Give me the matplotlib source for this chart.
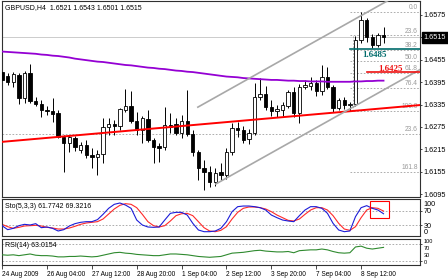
import numpy as np
import matplotlib.pyplot as plt
from matplotlib.patches import Rectangle

plt.rcParams['font.family'] = ['Liberation Sans', 'DejaVu Sans']

# GBPUSD H4, 69 bars (24 Aug 20:00 .. 9 Sep 04:00)
opens = [1.6422, 1.6412, 1.6395, 1.6414, 1.6353, 1.6420, 1.6345, 1.6336, 1.6320, 1.6318,
         1.6312, 1.6248, 1.6232, 1.6245, 1.6213, 1.6227, 1.6200, 1.6194, 1.6202, 1.6275,
         1.6283, 1.6278, 1.6320, 1.6331, 1.6291, 1.6267, 1.6296, 1.6240, 1.6224, 1.6221,
         1.6280, 1.6283, 1.6259, 1.6291, 1.6256, 1.6208, 1.6165, 1.6154, 1.6127, 1.6154,
         1.6146, 1.6208, 1.6272, 1.6267, 1.6243, 1.6259, 1.6355, 1.6363, 1.6328, 1.6318,
         1.6320, 1.6331, 1.6368, 1.6312, 1.6382, 1.6385, 1.6393, 1.6371, 1.6409, 1.6382,
         1.6326, 1.6347, 1.6334, 1.6336, 1.6508, 1.6562, 1.6516, 1.6495, 1.6521]
highs = [1.6428, 1.6420, 1.6422, 1.6420, 1.6425, 1.6444, 1.6355, 1.6347, 1.6331, 1.6353,
         1.6320, 1.6253, 1.6253, 1.6251, 1.6235, 1.6240, 1.6219, 1.6213, 1.6299, 1.6299,
         1.6294, 1.6326, 1.6377, 1.6371, 1.6315, 1.6304, 1.6320, 1.6245, 1.6232, 1.6328,
         1.6312, 1.6299, 1.6307, 1.6374, 1.6267, 1.6213, 1.6186, 1.6170, 1.6165, 1.6178,
         1.6219, 1.6286, 1.6288, 1.6278, 1.6270, 1.6393, 1.6406, 1.6385, 1.6347, 1.6334,
         1.6342, 1.6374, 1.6382, 1.6390, 1.6401, 1.6409, 1.6401, 1.6441, 1.6436, 1.6387,
         1.6353, 1.6355, 1.6342, 1.6519, 1.6583, 1.6567, 1.6524, 1.6527, 1.6543]
lows = [1.6393, 1.6387, 1.6382, 1.6336, 1.6339, 1.6339, 1.6331, 1.6302, 1.6307, 1.6288,
        1.6245, 1.6154, 1.6208, 1.6211, 1.6205, 1.6192, 1.6165, 1.6146, 1.6178, 1.6253,
        1.6253, 1.6267, 1.6315, 1.6286, 1.6253, 1.6232, 1.6235, 1.6178, 1.6181, 1.6213,
        1.6259, 1.6253, 1.6245, 1.6251, 1.6197, 1.6133, 1.6106, 1.6114, 1.6117, 1.6133,
        1.6135, 1.6200, 1.6248, 1.6232, 1.6229, 1.6253, 1.6347, 1.6320, 1.6304, 1.6302,
        1.6304, 1.6326, 1.6302, 1.6286, 1.6377, 1.6374, 1.6358, 1.6361, 1.6377, 1.6315,
        1.6320, 1.6323, 1.6318, 1.6331, 1.6500, 1.6503, 1.6487, 1.6489, 1.6501]
closes = [1.6401, 1.6395, 1.6417, 1.6353, 1.6420, 1.6345, 1.6336, 1.6320, 1.6318, 1.6310,
          1.6248, 1.6232, 1.6248, 1.6221, 1.6227, 1.6200, 1.6194, 1.6202, 1.6275, 1.6283,
          1.6278, 1.6323, 1.6331, 1.6291, 1.6267, 1.6299, 1.6240, 1.6221, 1.6219, 1.6280,
          1.6275, 1.6259, 1.6291, 1.6256, 1.6208, 1.6165, 1.6154, 1.6127, 1.6152, 1.6146,
          1.6208, 1.6272, 1.6267, 1.6240, 1.6259, 1.6355, 1.6363, 1.6328, 1.6318, 1.6323,
          1.6334, 1.6368, 1.6312, 1.6382, 1.6387, 1.6393, 1.6371, 1.6409, 1.6382, 1.6326,
          1.6347, 1.6334, 1.6336, 1.6508, 1.6562, 1.6516, 1.6495, 1.6521, 1.6515]

ma_purple = [1.6477, 1.6476, 1.6475, 1.6474, 1.6473, 1.6472, 1.6471, 1.6469, 1.6468, 1.6466,
             1.6465, 1.6463, 1.6461, 1.6458, 1.6456, 1.6454, 1.6452, 1.6450, 1.6449, 1.6447,
             1.6445, 1.6443, 1.6441, 1.6440, 1.6438, 1.6436, 1.6434, 1.6433, 1.6431, 1.6430,
             1.6428, 1.6426, 1.6425, 1.6423, 1.6422, 1.6420, 1.6418, 1.6416, 1.6414, 1.6412,
             1.6410, 1.6409, 1.6408, 1.6406, 1.6405, 1.6404, 1.6403, 1.6402, 1.6401, 1.6401,
             1.6400, 1.6399, 1.6399, 1.6398, 1.6398, 1.6397, 1.6397, 1.6397, 1.6396, 1.6396,
             1.6396, 1.6396, 1.6396, 1.6397, 1.6397, 1.6398, 1.6398, 1.6399, 1.6399]

sto_main = [28.7, 17.6, 21.3, 28.7, 32.4, 30.6, 34.3, 23.1, 25.0, 21.3,
            13.9, 17.6, 27.8, 34.3, 38.0, 39.8, 39.8, 45.4, 60.2, 76.9,
            88.0, 91.7, 86.0, 76.9, 44.4, 30.6, 25.0, 24.1, 25.0, 44.4,
            63.0, 65.7, 65.7, 58.3, 35.2, 16.7, 12.0, 12.0, 13.9, 21.3,
            39.8, 67.6, 81.5, 83.3, 83.3, 81.5, 78.7, 72.2, 58.3, 50.9,
            44.4, 41.7, 39.8, 56.5, 72.2, 81.5, 81.5, 76.9, 63.0, 35.2,
            16.7, 12.0, 13.9, 53.7, 78.7, 84.3, 76.9, 72.2, 61.8]
sto_signal = [32.4, 25.9, 21.3, 24.1, 27.8, 28.7, 29.6, 27.8, 24.1, 22.2,
              19.4, 19.4, 22.2, 26.9, 32.4, 36.1, 38.0, 39.8, 47.2, 61.1,
              75.0, 85.2, 89.8, 88.0, 78.7, 60.2, 39.8, 28.7, 25.0, 28.7,
              41.7, 56.5, 61.9, 63.0, 56.5, 39.8, 23.1, 13.9, 12.0, 15.7,
              25.9, 47.2, 65.7, 76.9, 80.6, 80.6, 78.7, 75.0, 67.6, 58.3,
              50.9, 43.5, 41.7, 47.2, 60.2, 72.2, 78.7, 78.7, 72.2, 56.5,
              35.2, 19.4, 15.7, 25.9, 50.9, 72.2, 78.7, 76.9, 69.3]

rsi14 = [45, 44, 45, 43, 45, 47, 44, 43, 43, 42,
         40, 40, 41, 41, 42, 41, 40, 41, 44, 47,
         50, 51, 49, 48, 46, 45, 44, 43, 43, 45,
         47, 47, 46, 45, 43, 41, 40, 39, 40, 41,
         45, 49, 50, 51, 53, 55, 56, 54, 53, 52,
         52, 53, 50, 55, 56, 57, 57, 59, 57, 53,
         50, 49, 50, 64, 66, 61, 59, 61, 63]

time_ticks = [0, 8, 16, 24, 32, 40, 48, 56, 64]
time_labels = ['24 Aug 2009', '26 Aug 04:00', '27 Aug 12:00', '28 Aug 20:00', '1 Sep 04:00',
               '2 Sep 12:00', '3 Sep 20:00', '7 Sep 04:00', '8 Sep 12:00']
price_ticks = [1.6575, 1.6515, 1.6455, 1.6395, 1.6335, 1.6275, 1.6215, 1.6155, 1.6095]

fib_high, fib_low, fib_start = 1.6583, 1.6318, 62
fib_levels = [0.0, 23.6, 38.2, 50.0, 61.8, 76.4, 100.0, 123.6, 161.8]
fib_names = ['0.0', '23.6', '38.2', '50.0', '61.8', '76.4', '100.0', '23.6', '161.8']

trend_bars, trend_prices = [0, 68], [1.6235, 1.6325]
chan_up_bars, chan_up_prices = [34.9, 68], [1.6328, 1.6607]
chan_lo_bars, chan_lo_prices = [38.1, 68], [1.6122, 1.6374]

teal_level, teal_text = 1.6484, '1.6485'
red_level, red_text = 1.6421, '1.6425'
bid = 1.6515

W, H = 448, 280
XMIN, XMAX = -0.1, 74.5
GRAY = '#a0a0a0'

fig = plt.figure(figsize=(W / 100, H / 100), dpi=100)


def panel(top, bottom, left=1.5, right=420):
    return fig.add_axes([left / W, 1 - bottom / H, (right - left) / W, (bottom - top) / H])


def ray(a, bars, prices, **kw):
    slope = (prices[1] - prices[0]) / (bars[1] - bars[0])
    a.plot([bars[0], XMAX], [prices[0], prices[1] + slope * (XMAX - bars[1])], **kw)


def side_label(a, y, text, coords=('axes fraction', 'data'), size=5.2, **kw):
    a.annotate(text, xy=(1, y), xycoords=coords, xytext=(2.7, 0),
               textcoords='offset points', ha='left', va='center', fontsize=size,
               annotation_clip=False, **kw)


ax = panel(1, 197)
ax_st = panel(199, 236)
ax_rsi = panel(238.5, 265)

for a in (ax, ax_st, ax_rsi):
    a.set_xlim(XMIN, XMAX)
    for s in a.spines.values():
        s.set_color('#303030')
        s.set_linewidth(0.8)
    a.yaxis.tick_right()
    a.tick_params(axis='y', length=1.5, width=0.5, pad=1.2, labelsize=5.2)
    a.tick_params(axis='x', length=0, labelbottom=False)

# ---- main price panel
ax.set_ylim(1.60872, 1.66125)
ax.set_yticks(price_ticks)
ax.set_yticklabels([f'{p:.4f}' for p in price_ticks])
ax.axhline(bid, color='#cccccc', lw=0.7, zorder=1)

idx = np.arange(len(opens))
o, h, l, c = (np.array(v) for v in (opens, highs, lows, closes))
body_lo = np.minimum(o, c)
body_h = np.maximum(np.abs(c - o), 0.00004)
ax.vlines(idx, l, h, color='black', lw=0.7, zorder=2)
ax.bar(idx, body_h, bottom=body_lo, width=0.6, color=np.where(c >= o, 'white', 'black'),
       edgecolor='black', linewidth=0.6, zorder=3)

ax.plot(idx, ma_purple, color='#9400d3', lw=1.3, zorder=4)
ray(ax, trend_bars, trend_prices, color='red', lw=1.4, zorder=4)
ray(ax, chan_up_bars, chan_up_prices, color='#a8a8a8', lw=1.2, zorder=4)
ray(ax, chan_lo_bars, chan_lo_prices, color='#a8a8a8', lw=1.2, zorder=4)

# fibonacci levels
for lvl, name in zip(fib_levels, fib_names):
    p = fib_high - lvl / 100 * (fib_high - fib_low)
    x0 = XMIN if lvl == 123.6 else fib_start
    ax.plot([x0, XMAX], [p, p], color=GRAY, lw=0.6, ls=(0, (2, 2)), zorder=1.5)
    ax.annotate(name, xy=(XMAX - 0.4, p), xytext=(0, 0.6), textcoords='offset points',
                ha='right', va='bottom', fontsize=4.8, color='#999999')
ax.plot([fib_start + 0.6, fib_start + 0.6], [fib_low, fib_high - 0.236 * (fib_high - fib_low)],
        color=GRAY, lw=0.6, ls=(0, (2, 2)), zorder=1.5)

ax.plot([fib_start, XMAX], [teal_level, teal_level], color='#006b6b', lw=1.2, zorder=4)
ax.plot([65, XMAX], [red_level, red_level], color='#ee1111', lw=1.2, zorder=4)
ax.text(64.2, 1.6468, teal_text, color='#006b6b', fontsize=6.5, fontweight='bold',
        family='Liberation Serif', ha='left', va='center', zorder=5)
ax.text(67.0, 1.6431, red_text, color='#ee1111', fontsize=6.5, fontweight='bold',
        family='Liberation Serif', ha='left', va='center', zorder=5)

ax.text(0.0084, 0.969, 'GBPUSD,H4  1.6521 1.6543 1.6501 1.6515', transform=ax.transAxes,
        fontsize=5, va='center', ha='left')
side_label(ax, bid, '1.6515', color='white', zorder=6,
           bbox=dict(boxstyle='square,pad=0.25', fc='black', ec='black'))

# ---- stochastic panel
ax_st.set_ylim(0, 102.8)
for lv in (70, 30):
    ax_st.axhline(lv, color=GRAY, lw=0.6, ls=(0, (2, 2)), zorder=1)
ax_st.plot(idx, sto_main, color='#1c1cd8', lw=0.8, zorder=3)
ax_st.plot(idx, sto_signal, color='#ff2a2a', lw=0.8, zorder=2)
ax_st.set_yticks([70, 30])
ax_st.set_yticklabels(['70', '30'])
side_label(ax_st, 0.857, '100', coords='axes fraction')
side_label(ax_st, 0.1, '0', coords='axes fraction')
ax_st.text(0.0084, 0.792, 'Sto(5,3,3) 61.7742 69.3216', transform=ax_st.transAxes,
           fontsize=5, va='center', ha='left')
ax_st.add_patch(Rectangle((65.5, 50.8), 3.4, 46.4, fill=False, ec='red', lw=0.8, zorder=4))

# ---- RSI panel (labels squeezed into the small window)
ax_rsi.set_ylim(20.3, 84.5)
for lv in (70, 30):
    ax_rsi.axhline(lv, color=GRAY, lw=0.6, ls=(0, (2, 2)), zorder=1)
ax_rsi.plot(idx, rsi14, color='#2f8a2f', lw=0.8, zorder=3)
ax_rsi.set_yticks([70, 30])
ax_rsi.set_yticklabels(['', ''])
for frac, lab in [(0.89, '100'), (0.64, '70'), (0.35, '30'), (0.085, '0')]:
    side_label(ax_rsi, frac, lab, coords='axes fraction', size=4.0)
ax_rsi.text(0.0084, 0.728, 'RSI(14) 63.0154', transform=ax_rsi.transAxes,
            fontsize=5, va='center', ha='left')

ax_rsi.set_xticks(time_ticks)
ax_rsi.set_xticklabels(time_labels)
ax_rsi.tick_params(axis='x', length=3, width=0.5, pad=1, labelsize=4.7, labelbottom=True)
for lbl in ax_rsi.get_xticklabels():
    lbl.set_ha('left')

fig.savefig('out.png', dpi=100)
